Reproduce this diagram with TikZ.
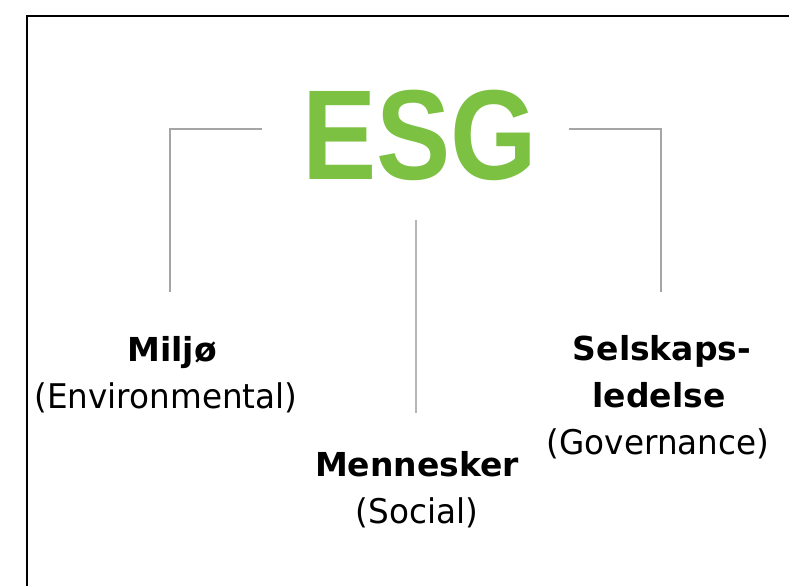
\documentclass[tikz,border=0pt]{standalone}
\usepackage{fontspec}
\setmainfont{DejaVu Sans}
\newfontfamily\esgfont{Liberation Sans}
\definecolor{esggreen}{RGB}{125,193,67}
\definecolor{linegray}{RGB}{165,165,165}
\newcommand{\subwide}[1]{\scalebox{0.96}[1]{#1}}
\begin{document}
\begin{tikzpicture}[x=1pt,y=-1pt,
  conn/.style={draw=linegray,line width=1.5pt},
  thinconn/.style={draw=linegray!110!black,line width=1.1pt},
  frameline/.style={draw=black,line width=1.5pt},
  titletext/.style={text=esggreen,font=\esgfont\bfseries\fontsize{128}{128}\selectfont,inner sep=0pt,anchor=base},
  headtext/.style={font=\bfseries\fontsize{33}{40}\selectfont,inner sep=0pt,anchor=base},
  subtext/.style={font=\fontsize{34}{40}\selectfont,inner sep=0pt,anchor=base}]
\useasboundingbox (0,0) rectangle (789,586);
\draw[frameline] (27,586) -- (27,16) -- (789,16);
\node[titletext] (esg) at (420,179) {\scalebox{0.87}[1]{ESG}};
% connectors
\coordinate (lt) at (262,129);
\coordinate (lb) at (170,292);
\coordinate (rt) at (569,129);
\coordinate (rb) at (661,292);
\coordinate (mt) at (416,220);
\coordinate (mb) at (416,413);
\draw[conn] (lt) -| (lb);
\draw[conn] (rt) -| (rb);
\draw[thinconn] (mt) -- (mb);
% labels
\node[headtext] (miljo) at (172,361) {Miljø};
\node[subtext] (env) at (166,408) {\subwide{(Environmental)}};
\node[headtext] (sel1) at (662,360) {Selskaps-};
\node[headtext] (sel2) at (659,407) {ledelse};
\node[subtext] (gov) at (658,454) {\subwide{(Governance)}};
\node[headtext] (men) at (417,476) {Mennesker};
\node[subtext] (soc) at (417,523) {\subwide{(Social)}};
\end{tikzpicture}
\end{document}
